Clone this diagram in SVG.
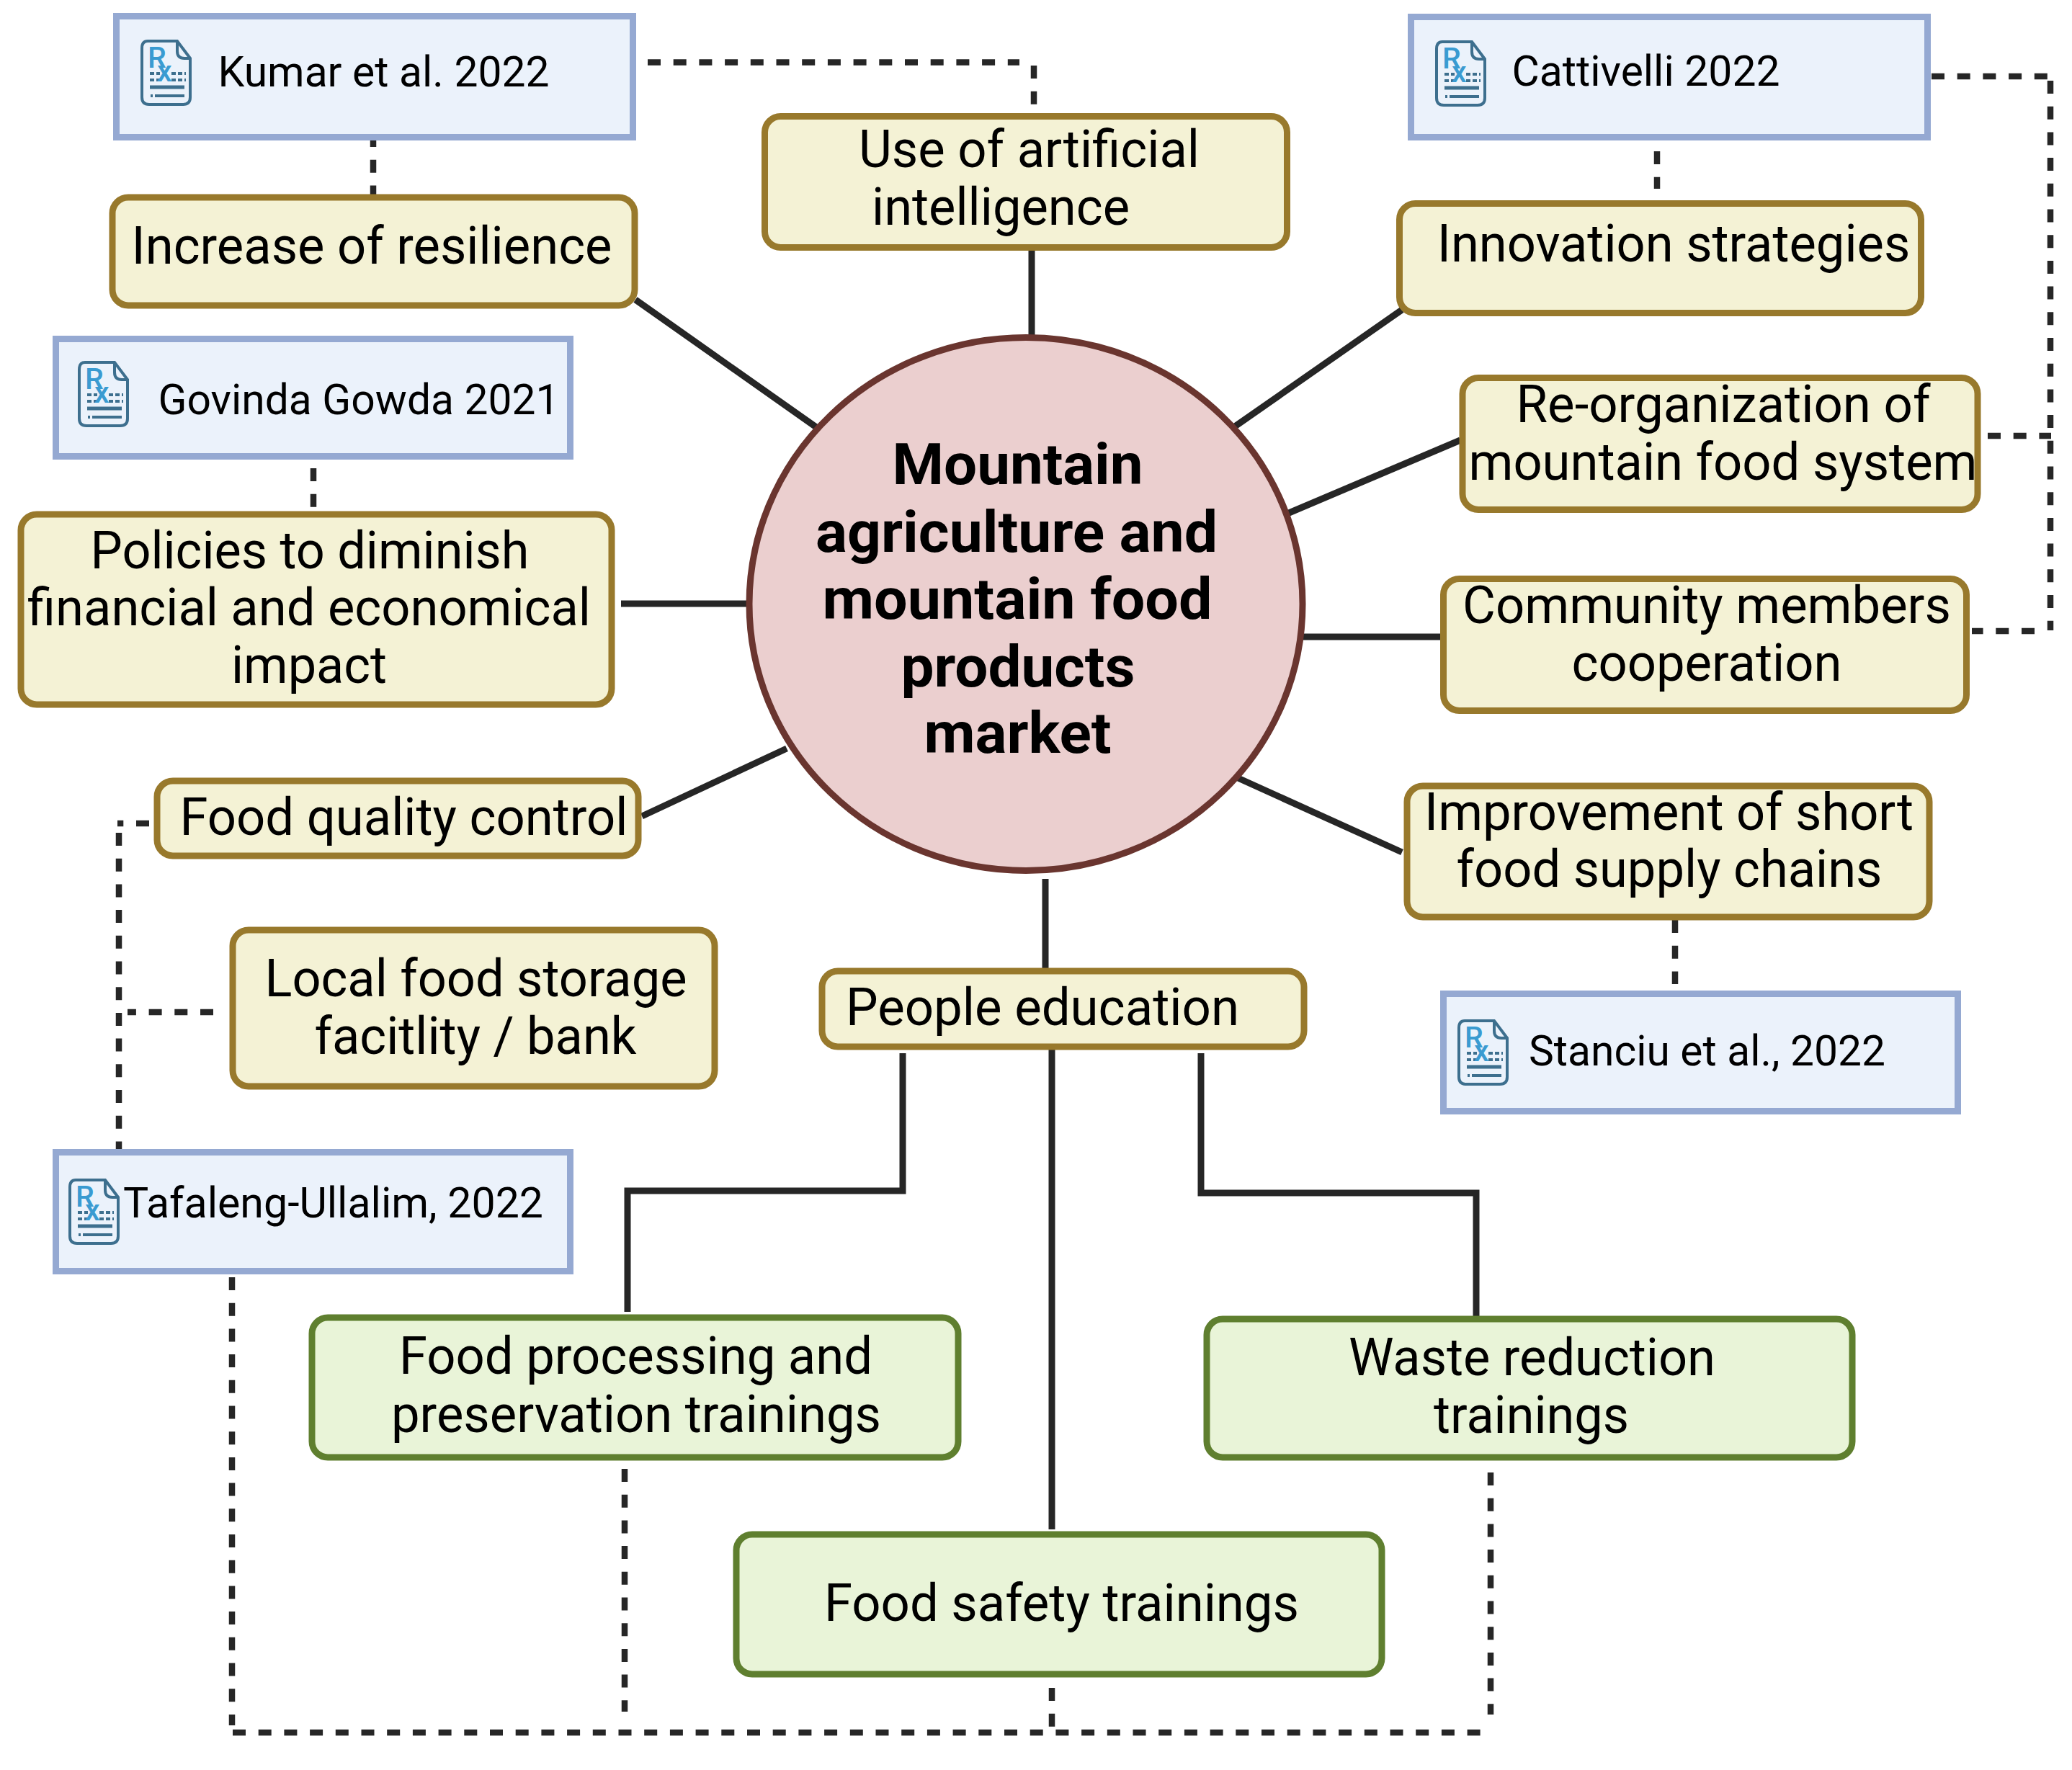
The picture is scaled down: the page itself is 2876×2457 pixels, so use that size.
<svg xmlns="http://www.w3.org/2000/svg" width="2876" height="2457" viewBox="0 0 2876 2457">
<style>
text{font-family:Roboto,"Liberation Sans",sans-serif;fill:#000}
.t{font-size:72px;text-anchor:middle}
.r{font-size:60px;text-anchor:middle}
.c{font-size:80px;font-weight:700;text-anchor:middle}
.ref{fill:#ebf2fb;stroke:#95a9d2;stroke-width:9}
.y{fill:#f4f2d5;stroke:#98792c;stroke-width:9}
.g{fill:#e9f4d8;stroke:#5f7f2f;stroke-width:9}
.hub{fill:#ebcfcf;stroke:#6a352f;stroke-width:9}
.solid{fill:none;stroke:#262626;stroke-width:9}
.dash{fill:none;stroke:#262626;stroke-width:8.500;stroke-dasharray:18 17.700}
.ic{fill:none;stroke:#3d6f8e;stroke-width:4}
.ib{fill:none;stroke:#3d6f8e;stroke-width:5}
.id{fill:none;stroke:#3d6f8e;stroke-width:4;stroke-dasharray:6 3}
.rx{font-size:41px;font-weight:500;fill:#3a9bd1;stroke:none}
</style>
<defs>
<g id="rx">
<path class="ic" d="M10 2H51L69 26V80Q69 90 59 90H12Q2 90 2 80V12Q2 2 10 2Z"/>
<path class="ic" d="M51 2V16Q51 26 61 26H69"/>
<path class="id" d="M13 47H27M43 47H63M13 56H27M43 56H63"/>
<text class="rx" x="10" y="39">R</text>
<text class="rx" x="23" y="58">x</text>
<path class="ib" d="M13 66H61"/>
<path class="ic" d="M14 78H17M20 78H61"/>
</g>
</defs>
<g id="connectors">
<path class="solid" d="M1432 345V470"/>
<path class="solid" d="M882 416L1133 593"/>
<path class="solid" d="M1714 592L1946 430"/>
<path class="solid" d="M1782 715L2027 611"/>
<path class="solid" d="M1806 884H2000"/>
<path class="solid" d="M1714 1078L1946 1183"/>
<path class="solid" d="M862 838H1040"/>
<path class="solid" d="M1092 1039L891 1133"/>
<path class="solid" d="M1451 1220V1346"/>
<path class="solid" d="M1253 1462V1653H871V1821"/>
<path class="solid" d="M1460 1455V2123"/>
<path class="solid" d="M1667 1462V1656H2049V1827"/>
<path class="dash" d="M899 86.500H1415M1435 91V146"/>
<path class="dash" d="M518 186V276"/>
<path class="dash" d="M2681 106H2842M2846 112V875M2824 876H2737"/>
<path class="dash" d="M2759 605H2847"/>
<path class="dash" d="M2300 210V262"/>
<path class="dash" d="M435 650V706"/>
<path class="dash" d="M2325 1277V1366"/>
<path class="dash" d="M207 1143H163M165 1156V1597"/>
<path class="dash" d="M296 1405H177"/>
<path class="dash" d="M322 1773V2395M323 2405H2072M2069 2044V2380"/>
<path class="dash" d="M867 2039V2376"/>
<path class="dash" d="M1460 2343V2397"/>
</g>
<g id="hub"><ellipse class="hub" cx="1424" cy="838.500" rx="384" ry="370"/>
<text class="c" x="1412.500" y="672" textLength="348" lengthAdjust="spacingAndGlyphs">Mountain</text>
<text class="c" x="1411" y="765.500" textLength="558" lengthAdjust="spacingAndGlyphs">agriculture and</text>
<text class="c" x="1412" y="859" textLength="541" lengthAdjust="spacingAndGlyphs">mountain food</text>
<text class="c" x="1413" y="953" textLength="325" lengthAdjust="spacingAndGlyphs">products</text>
<text class="c" x="1412.500" y="1045" textLength="260" lengthAdjust="spacingAndGlyphs">market</text></g>
<g id="ref-kumar"><rect class="ref" x="161.500" y="22.500" width="717" height="168"/><use href="#rx" x="195" y="55"/><text class="r" x="532.500" y="120" textLength="460" lengthAdjust="spacingAndGlyphs">Kumar et al. 2022</text></g>
<g id="ref-cattivelli"><rect class="ref" x="1958.500" y="23.500" width="717" height="167"/><use href="#rx" x="1992" y="56"/><text class="r" x="2284.500" y="119" textLength="372" lengthAdjust="spacingAndGlyphs">Cattivelli 2022</text></g>
<g id="ref-govinda"><rect class="ref" x="77.500" y="470.500" width="714" height="163"/><use href="#rx" x="108" y="501"/><text class="r" x="498" y="575" textLength="557" lengthAdjust="spacingAndGlyphs">Govinda Gowda 2021</text></g>
<g id="ref-stanciu"><rect class="ref" x="2003.500" y="1379.500" width="714" height="163"/><use href="#rx" x="2023" y="1415"/><text class="r" x="2369.500" y="1479" textLength="495" lengthAdjust="spacingAndGlyphs">Stanciu et al., 2022</text></g>
<g id="ref-tafaleng"><rect class="ref" x="77.500" y="1599.500" width="714" height="165"/><use href="#rx" x="95" y="1636"/><text class="r" x="462.500" y="1690" textLength="583" lengthAdjust="spacingAndGlyphs">Tafaleng-Ullalim, 2022</text></g>
<g id="node-ai"><rect class="y" x="1061.500" y="161.500" width="725" height="182" rx="22"/><text class="t" x="1428.500" y="232" textLength="473" lengthAdjust="spacingAndGlyphs">Use of artificial</text><text class="t" x="1389" y="312" textLength="358" lengthAdjust="spacingAndGlyphs">intelligence</text></g>
<g id="node-resilience"><rect class="y" x="156" y="274" width="725" height="150" rx="22"/><text class="t" x="516" y="365.500" textLength="667" lengthAdjust="spacingAndGlyphs">Increase of resilience</text></g>
<g id="node-innovation"><rect class="y" x="1942.500" y="282.500" width="724" height="152" rx="22"/><text class="t" x="2323" y="363" textLength="656.500" lengthAdjust="spacingAndGlyphs">Innovation strategies</text></g>
<g id="node-reorg"><rect class="y" x="2030" y="524.500" width="715" height="183" rx="22"/><text class="t" x="2392" y="586" textLength="575" lengthAdjust="spacingAndGlyphs">Re-organization of</text><text class="t" x="2391.500" y="666" textLength="706" lengthAdjust="spacingAndGlyphs">mountain food system</text></g>
<g id="node-community"><rect class="y" x="2003.500" y="803.500" width="726" height="183" rx="22"/><text class="t" x="2369" y="865" textLength="678" lengthAdjust="spacingAndGlyphs">Community members</text><text class="t" x="2369" y="945" textLength="375" lengthAdjust="spacingAndGlyphs">cooperation</text></g>
<g id="node-improvement"><rect class="y" x="1953" y="1091" width="725" height="182" rx="22"/><text class="t" x="2316.500" y="1152" textLength="679" lengthAdjust="spacingAndGlyphs">Improvement of short</text><text class="t" x="2317" y="1231" textLength="591" lengthAdjust="spacingAndGlyphs">food supply chains</text></g>
<g id="node-policies"><rect class="y" x="29" y="714" width="820" height="264" rx="22"/><text class="t" x="430" y="789" textLength="609" lengthAdjust="spacingAndGlyphs">Policies to diminish</text><text class="t" x="429" y="868" textLength="782" lengthAdjust="spacingAndGlyphs">financial and economical</text><text class="t" x="429" y="948" textLength="216" lengthAdjust="spacingAndGlyphs">impact</text></g>
<g id="node-quality"><rect class="y" x="218" y="1084" width="668" height="104" rx="22"/><text class="t" x="560.500" y="1158.500" textLength="622" lengthAdjust="spacingAndGlyphs">Food quality control</text></g>
<g id="node-storage"><rect class="y" x="323" y="1291" width="669" height="217" rx="22"/><text class="t" x="660.500" y="1382.500" textLength="586" lengthAdjust="spacingAndGlyphs">Local food storage</text><text class="t" x="660" y="1462.500" textLength="447" lengthAdjust="spacingAndGlyphs">facitlity / bank</text></g>
<g id="node-people"><rect class="y" x="1141" y="1348" width="669" height="105" rx="22"/><text class="t" x="1447" y="1423" textLength="546" lengthAdjust="spacingAndGlyphs">People education</text></g>
<g id="node-processing"><rect class="g" x="433" y="1829" width="897" height="194" rx="22"/><text class="t" x="882.500" y="1907" textLength="657" lengthAdjust="spacingAndGlyphs">Food processing and</text><text class="t" x="883" y="1988" textLength="680" lengthAdjust="spacingAndGlyphs">preservation trainings</text></g>
<g id="node-waste"><rect class="g" x="1675" y="1831" width="896" height="192" rx="22"/><text class="t" x="2126.500" y="1909" textLength="509" lengthAdjust="spacingAndGlyphs">Waste reduction</text><text class="t" x="2125.500" y="1989" textLength="271" lengthAdjust="spacingAndGlyphs">trainings</text></g>
<g id="node-safety"><rect class="g" x="1022" y="2130" width="896" height="194" rx="22"/><text class="t" x="1473.500" y="2249.500" textLength="659" lengthAdjust="spacingAndGlyphs">Food safety trainings</text></g>
</svg>
